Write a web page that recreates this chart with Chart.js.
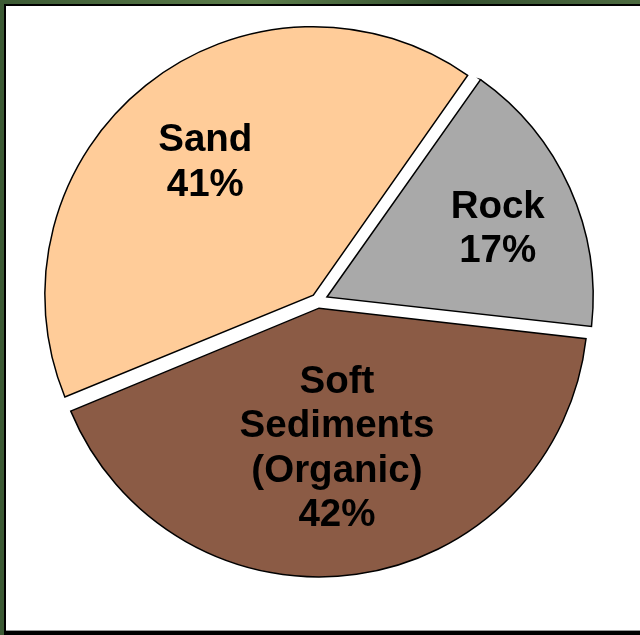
<!DOCTYPE html>
<html>
<head>
<meta charset="utf-8">
<script src="https://cdn.jsdelivr.net/npm/chart.js@4/dist/chart.umd.min.js"></script>
<style>
    html, body { margin: 0; padding: 0; }
    body {
        width: 640px;
        height: 635px;
        overflow: hidden;
        position: relative;
        background: linear-gradient(90deg, #3c5a34, #5c7d4a 40%, #34502f 70%, #4d6b40);
    }
    #frame {
        position: absolute;
        left: 4px;
        top: 4px;
        width: 700px;
        height: 625px;
        background: #fff;
        border-top: 2px solid #000;
        border-left: 2px solid #000;
        border-bottom: 4px solid #000;
        box-shadow: inset 0 -1px 0 #999;
    }
    #wrap {
        position: absolute;
        left: 0;
        top: 0;
        width: 636px;
        height: 602px;
    }
</style>
</head>
<body>
<div id="frame"></div>
<div id="wrap"><canvas id="seabedChart"></canvas></div>
<script>
// Bottom type shares
const categories = [['Sand'], ['Rock'], ['Soft', 'Sediments', '(Organic)']];
const shares = [41, 17, 42];
const sliceColors = ['#FFCC99', '#A9A9A9', '#8B5B45'];

const total = shares.reduce((a, b) => a + b, 0);
const gap = 11;                         // px each slice is pulled out
const labelDepth = [0.64, 0.693, 0.51]; // label distance as a fraction of radius
const labelTurn = [0, 1.7, 0.6];        // small angular nudge of each label, degrees

// ArcElement translates by offset/4 * (1 + fix), so undo that to get a fixed gap
function sliceOffset(ctx) {
    const circ = ctx.raw / total * Math.PI * 2;
    const fix = 1 - Math.sin(Math.min(Math.PI, circ));
    return gap * 4 / (1 + fix);
}

const sliceLabels = {
    id: 'sliceLabels',
    afterDatasetsDraw(chart) {
        const ctx = chart.ctx;
        const meta = chart.getDatasetMeta(0);
        const size = 38.5;
        const lh = 44.5;
        ctx.save();
        ctx.font = 'bold ' + size + 'px "Liberation Sans", Arial, sans-serif';
        ctx.fillStyle = '#000';
        ctx.textAlign = 'center';
        ctx.textBaseline = 'alphabetic';
        meta.data.forEach((arc, i) => {
            const p = arc.getProps(['x', 'y', 'startAngle', 'endAngle', 'outerRadius', 'circumference'], true);
            const mid = (p.startAngle + p.endAngle) / 2;
            const fix = 1 - Math.sin(Math.min(Math.PI, p.circumference));
            const shift = (arc.options.offset || 0) / 4 * (1 + fix);
            const ax = p.x + Math.cos(mid) * shift;
            const ay = p.y + Math.sin(mid) * shift;
            const a = mid + labelTurn[i] * Math.PI / 180;
            const d = labelDepth[i] * p.outerRadius;
            const cx = ax + Math.cos(a) * d;
            const cy = ay + Math.sin(a) * d;
            const lines = categories[i].concat([shares[i] + '%']);
            lines.forEach((line, k) => {
                // centre the cap height on each line's slot
                const mid_y = cy + (k - (lines.length - 1) / 2) * lh;
                ctx.fillText(line, cx, mid_y + size * 0.358);
            });
        });
        ctx.restore();
    }
};

new Chart(document.getElementById('seabedChart'), {
    type: 'pie',
    data: {
        labels: categories.map(c => c.join(' ')),
        datasets: [{
            data: shares,
            backgroundColor: sliceColors,
            borderColor: '#000',
            borderWidth: 1.5,
            borderJoinStyle: 'miter',
            offset: sliceOffset,
            hoverOffset: 0
        }]
    },
    options: {
        responsive: true,
        maintainAspectRatio: false,
        animation: false,
        radius: 265,
        rotation: -112.4,
        layout: { padding: 0 },
        events: [],
        plugins: {
            legend: { display: false },
            tooltip: { enabled: false }
        }
    },
    plugins: [sliceLabels]
});
</script>
</body>
</html>
